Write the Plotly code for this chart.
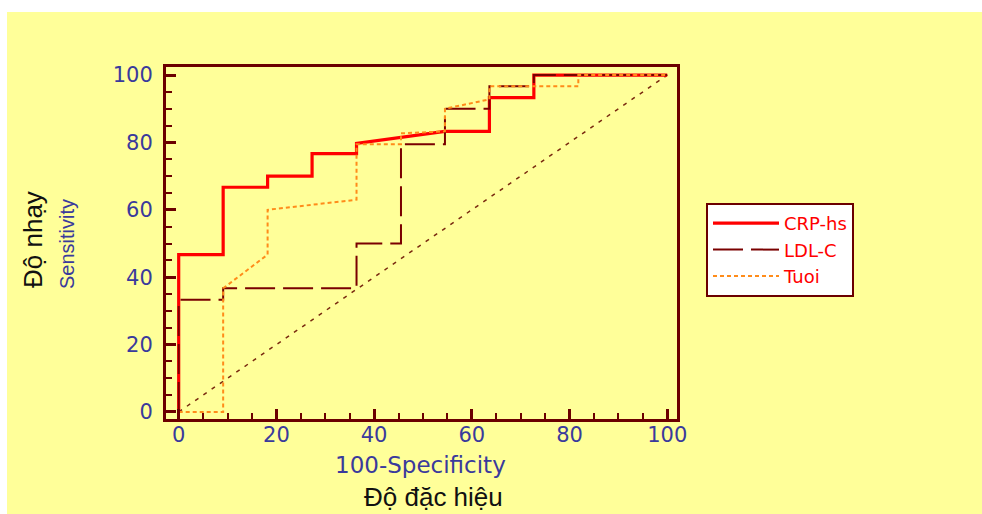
import plotly.graph_objects as go

# ROC curve coordinates (100-Specificity, Sensitivity)
crp_x = [0, 0, 9.1, 9.1, 18.2, 18.2, 27.3, 27.3, 36.4, 36.4, 54.5, 63.6, 63.6, 72.7, 72.7, 100]
crp_y = [0, 46.7, 46.7, 66.7, 66.7, 70.0, 70.0, 76.7, 76.7, 79.7, 83.3, 83.3, 93.3, 93.3, 100, 100]

ldl_x = [0, 0, 9.1, 9.1, 36.4, 36.4, 45.5, 45.5, 54.5, 54.5, 63.6, 63.6, 72.7, 72.7, 100]
ldl_y = [0, 33.3, 33.3, 36.7, 36.7, 50.0, 50.0, 79.5, 79.5, 90.0, 90.0, 96.7, 96.7, 100, 100]

tuoi_x = [0, 9.1, 9.1, 18.2, 18.2, 36.4, 36.4, 45.5, 45.5, 54.5, 54.5, 63.6, 63.6, 81.8, 81.8, 100]
tuoi_y = [0, 0, 36.7, 46.7, 60.0, 63.0, 79.5, 79.5, 82.7, 83.3, 90.0, 92.8, 96.7, 96.7, 100, 100]

diag_x = [0, 100]
diag_y = [0, 100]

names = ["CRP-hs", "LDL-C", "Tuoi"]
x_ticks = [0, 20, 40, 60, 80, 100]
y_ticks = [0, 20, 40, 60, 80, 100]

YELLOW = "#FFFF99"
MAROON = "#6b0000"
TICKBLUE = "#3a3a9c"

fig = go.Figure()
fig.add_trace(go.Scatter(x=diag_x, y=diag_y, mode="lines", showlegend=False,
                         line=dict(color="#7a2a10", width=1.5, dash="4px,6px"), hoverinfo="skip"))
fig.add_trace(go.Scatter(x=crp_x, y=crp_y, mode="lines", name=names[0],
                         line=dict(color="#ff0000", width=3.2)))
fig.add_trace(go.Scatter(x=ldl_x, y=ldl_y, mode="lines", name=names[1],
                         line=dict(color="#7a0000", width=2, dash="30px,8px")))
fig.add_trace(go.Scatter(x=tuoi_x, y=tuoi_y, mode="lines", name=names[2],
                         line=dict(color="#ff8c1a", width=2, dash="4px,3px")))

axis_common = dict(
    showline=True, linecolor=MAROON, linewidth=3, mirror=True,
    ticks="inside", ticklen=10, tickwidth=3, tickcolor=MAROON,
    showgrid=False, zeroline=False,
    tickfont=dict(family="DejaVu Sans", size=21, color=TICKBLUE),
    minor=dict(dtick=5, ticks="inside", ticklen=6, tickwidth=2, tickcolor=MAROON, showgrid=False),
)

fig.update_xaxes(range=[-2.6, 102.0], tickvals=x_ticks, ticktext=[str(v) for v in x_ticks],
                 ticklabelstandoff=-5, **axis_common)
fig.update_yaxes(range=[-2.1, 102.4], tickvals=y_ticks, ticktext=[str(v) for v in y_ticks],
                 ticklabelstandoff=6, **axis_common)

fig.update_layout(
    width=982, height=514,
    margin=dict(l=166, r=305, t=67, b=95, pad=0, autoexpand=False),
    paper_bgcolor="white",
    plot_bgcolor=YELLOW,
    showlegend=True,
    legend=dict(
        x=(706 - 166) / 511, y=(419 - 203) / 352, xanchor="left", yanchor="top",
        bgcolor="white", bordercolor=MAROON, borderwidth=2,
        font=dict(family="DejaVu Sans", size=18, color="#ff0000"),
        itemwidth=66, tracegroupgap=0,
    ),
    shapes=[dict(type="rect", xref="paper", yref="paper", layer="below",
                 x0=(7 - 166) / 511, x1=(990 - 166) / 511,
                 y0=(419 - 520) / 352, y1=(419 - 12) / 352,
                 fillcolor=YELLOW, line=dict(width=0))],
    annotations=[
        dict(text="Độ nhạy", xref="paper", yref="paper", x=(33 - 166) / 511, y=(419 - 240) / 352,
             textangle=-90, showarrow=False, xanchor="center", yanchor="middle",
             font=dict(family="Liberation Sans", size=26, color="#111111")),
        dict(text="Sensitivity", xref="paper", yref="paper", x=(67 - 166) / 511, y=(419 - 244) / 352,
             textangle=-90, showarrow=False, xanchor="center", yanchor="middle",
             font=dict(family="Liberation Sans Narrow, Liberation Sans", size=20, color=TICKBLUE)),
        dict(text="100-Specificity", xref="paper", yref="paper", x=(420 - 166) / 511, y=(419 - 465) / 352,
             showarrow=False, xanchor="center", yanchor="middle",
             font=dict(family="DejaVu Sans", size=23, color=TICKBLUE)),
        dict(text="Độ đặc hiệu", xref="paper", yref="paper", x=(433 - 166) / 511, y=(419 - 497) / 352,
             showarrow=False, xanchor="center", yanchor="middle",
             font=dict(family="Liberation Sans", size=26, color="#111111")),
    ],
)

fig.write_html("out.html", config={"displayModeBar": False},
               post_script="document.body.style.margin='0';")
